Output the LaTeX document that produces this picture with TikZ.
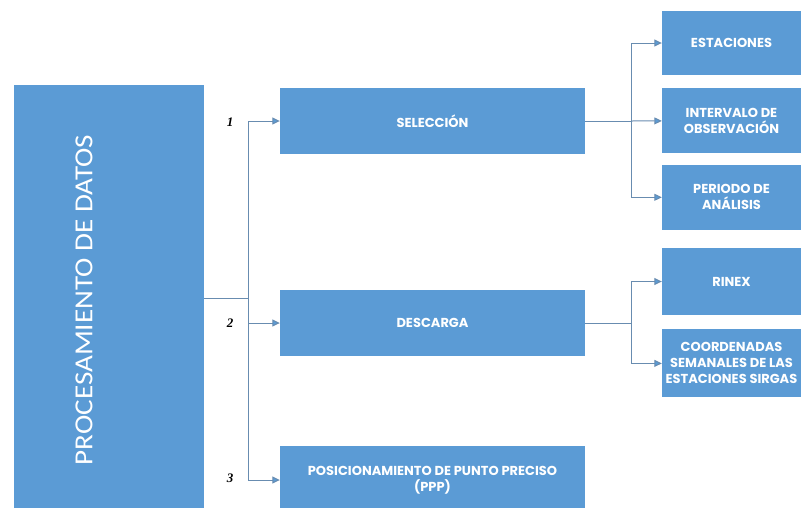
\documentclass[tikz,border=0pt]{standalone}
\usepackage{fontspec}
\setmainfont{Poppins}
\newfontfamily\titlefont{Carlito}
\newfontfamily\numfont{Liberation Serif}
\usetikzlibrary{arrows.meta,positioning}

\definecolor{boxblue}{RGB}{91,155,213}
\definecolor{linkblue}{RGB}{104,140,176}

\tikzset{
    box/.style={fill=boxblue, text=white, align=center, inner sep=0pt,
        font=\bfseries\fontsize{13}{16}\selectfont},
    stepbox/.style={box, minimum width=305pt, minimum height=66pt},
    subbox/.style={box, minimum width=139pt, minimum height=65pt},
    numlbl/.style={font=\numfont\bfseries\itshape\fontsize{13}{15}\selectfont},
    conn/.style={draw=linkblue, line width=1pt},
    arr/.style={conn, -{Triangle[length=7.5pt,width=7pt,fill=boxblue]}}
}

\begin{document}
\begin{tikzpicture}[x=1pt,y=-1pt]
    \useasboundingbox (0,0) rectangle (801,507);

    % main block
    \node[box, minimum width=190pt, minimum height=430pt] (proc) at (109,300) {};
    \node[rotate=90, xscale=1.12, text=white, font=\titlefont\fontsize{26}{30}\selectfont] (proctxt) at (84,300) {PROCESAMIENTO DE DATOS};

    \node[stepbox] (sel) at (432.5,121) {SELECCIÓN};
    \node[stepbox] (desc) at (432.5,323) {DESCARGA};
    \node[stepbox, minimum height=68pt] (ppp) at (432.5,480) {POSICIONAMIENTO DE PUNTO PRECISO\\(PPP)};

    \node[subbox, minimum height=64pt] (est) at (731.5,43) {ESTACIONES};
    \node[subbox, below=13pt of est] (int) {INTERVALO DE\\OBSERVACIÓN};
    \node[subbox, below=11pt of int] (per) {PERIODO DE\\ANÁLISIS};

    \node[subbox, minimum height=67pt] (rinex) at (731.5,281.5) {RINEX};
    \node[subbox, minimum height=68pt, below=14pt of rinex] (coord) {COORDENADAS\\SEMANALES DE LAS\\ESTACIONES SIRGAS};

    \node[numlbl] (n1) at (230,122) {1};
    \node[numlbl] (n2) at (230,323) {2};
    \node[numlbl] (n3) at (230,478) {3};

    \coordinate (hubA) at (248,298);
    \coordinate (hubB) at (631,121);
    \coordinate (hubC) at (631,323);

    \draw[conn] (proc.east |- hubA) -- (hubA);
    \draw[arr] (hubA) |- (sel.west);
    \draw[arr] (hubA) |- (desc.west);
    \draw[arr] (hubA) |- (ppp.west);

    \draw[conn] (sel.east) -- (hubB);
    \draw[arr] (hubB) |- (est.west);
    \draw[arr] (hubB) -- (int.west);
    \draw[arr] (hubB) |- (per.west);

    \draw[conn] (desc.east) -- (hubC);
    \draw[arr] (hubC) |- (rinex.west);
    \draw[arr] (hubC) |- (coord.west);
\end{tikzpicture}
\end{document}
